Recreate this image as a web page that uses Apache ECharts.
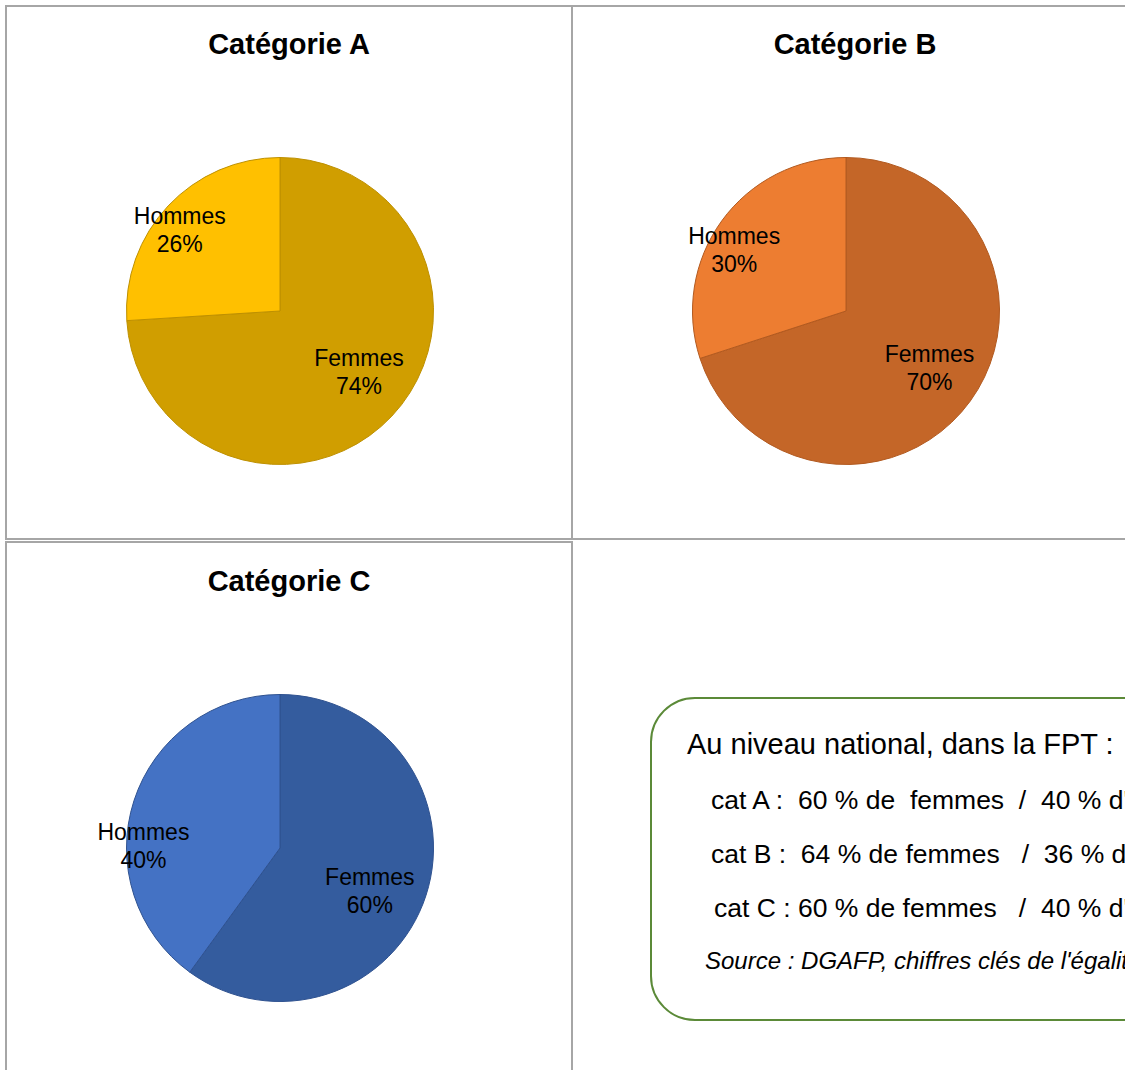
<!DOCTYPE html>
<html>
<head>
<meta charset="utf-8">
<script src="https://cdn.jsdelivr.net/npm/echarts@6/dist/echarts.min.js"></script>
<style>
  html, body { margin: 0; padding: 0; background: #fff; }
  #main { width: 1125px; height: 1070px; }
</style>
</head>
<body>
<div id="main"></div>
<script>
// données
var categories = ['Catégorie A', 'Catégorie B', 'Catégorie C'];
var sexes = ['Femmes', 'Hommes'];
var femmes = [74, 70, 60];
var hommes = [26, 30, 40];

// encadré national
var noteTitre = 'Au niveau national, dans la FPT :';
var noteLignes = [
    'cat A :  60 % de  femmes  /  40 % d\'hommes',
    'cat B :  64 % de femmes   /  36 % d\'hommes',
    'cat C : 60 % de femmes   /  40 % d\'hommes'
];
var noteSource = 'Source : DGAFP, chiffres clés de l\'égalité professionnelle';

// mise en page des 3 camemberts
var centres = [[280, 311], [846, 311], [280, 848]];
var rayon = 153.5;
var couleurs = [
    { femmes: '#D09E00', hommes: '#FFC000', bord: '#BE9000' },
    { femmes: '#C46628', hommes: '#ED7D31', bord: '#B25A20' },
    { femmes: '#345C9E', hommes: '#4472C4', bord: '#2F5290' }
];
// position des étiquettes : [angle depuis midi (sens horaire), fraction du rayon]
var etiquettes = [
    [[127.7, 0.65], [309, 0.84]],
    [[124.5, 0.66], [298.6, 0.83]],
    [[115.8, 0.65], [270.8, 0.89]]
];

var myChart = echarts.init(document.getElementById('main'), null, { renderer: 'svg' });

var series = [];
var titles = [];
for (var i = 0; i < categories.length; i++) {
    (function(i) {
        var c = couleurs[i];
        series.push({
            name: categories[i],
            type: 'pie',
            center: centres[i],
            radius: rayon,
            startAngle: 90,
            clockwise: true,
            silent: true,
            animation: false,
            itemStyle: { borderColor: c.bord, borderWidth: 1 },
            label: {
                show: true,
                position: 'inside',
                formatter: '{b}\n{c}%',
                color: '#000',
                fontFamily: 'Liberation Sans, Arial, sans-serif',
                fontSize: 23,
                lineHeight: 28
            },
            labelLine: { show: false },
            labelLayout: function(params) {
                var e = etiquettes[i][params.dataIndex];
                var a = e[0] * Math.PI / 180;
                return {
                    x: centres[i][0] + Math.sin(a) * e[1] * rayon,
                    y: centres[i][1] - Math.cos(a) * e[1] * rayon,
                    align: 'center',
                    verticalAlign: 'middle'
                };
            },
            data: [
                { name: sexes[0], value: femmes[i], itemStyle: { color: c.femmes } },
                { name: sexes[1], value: hommes[i], itemStyle: { color: c.hommes } }
            ]
        });
        titles.push({
            text: categories[i],
            left: centres[i][0] + 9,
            top: centres[i][1] - 282,
            textAlign: 'center',
            padding: 0,
            textStyle: {
                fontFamily: 'Liberation Sans, Arial, sans-serif',
                fontSize: 29,
                fontWeight: 'bold',
                color: '#000'
            }
        });
    })(i);
}

var bordGris = { stroke: '#A6A6A6', lineWidth: 2, fill: 'none' };
var graphics = [
    // cadres des graphiques
    { type: 'rect', shape: { x: 6, y: 6, width: 566, height: 533 }, style: bordGris, silent: true },
    { type: 'rect', shape: { x: 572, y: 6, width: 600, height: 533 }, style: bordGris, silent: true },
    { type: 'rect', shape: { x: 6, y: 542, width: 566, height: 600 }, style: bordGris, silent: true },
    // encadré
    {
        type: 'rect',
        shape: { x: 651, y: 698, width: 600, height: 322, r: 44 },
        style: { stroke: '#5B8A38', lineWidth: 2, fill: '#fff' },
        silent: true
    },
    {
        type: 'text', x: 687, y: 744,
        style: {
            text: noteTitre, fill: '#000', verticalAlign: 'middle',
            font: '29px "Liberation Sans", Arial, sans-serif'
        }
    }
];
var lignesX = [711, 711, 714];
for (var j = 0; j < noteLignes.length; j++) {
    graphics.push({
        type: 'text', x: lignesX[j], y: 800 + j * 54,
        style: {
            text: noteLignes[j], fill: '#000', verticalAlign: 'middle',
            font: '26.5px "Liberation Sans", Arial, sans-serif'
        }
    });
}
graphics.push({
    type: 'text', x: 705, y: 960,
    style: {
        text: noteSource, fill: '#000', verticalAlign: 'middle',
        font: 'italic 24px "Liberation Sans", Arial, sans-serif'
    }
});

myChart.setOption({
    backgroundColor: '#fff',
    animation: false,
    title: titles,
    graphic: graphics,
    series: series
});
</script>
</body>
</html>
